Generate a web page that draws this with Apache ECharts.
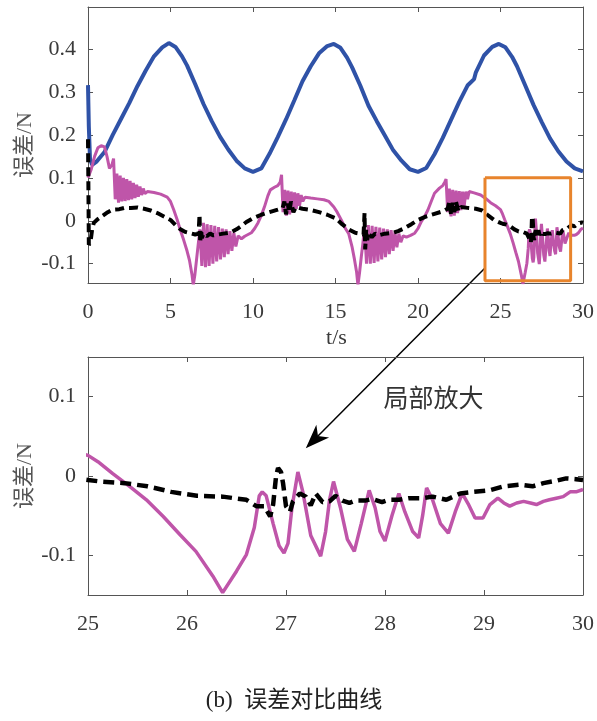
<!DOCTYPE html>
<html>
<head>
<meta charset="utf-8">
<script src="https://cdn.jsdelivr.net/npm/echarts@6/dist/echarts.min.js"></script>
<style>
html,body{margin:0;padding:0;background:#fff;}
#c{width:597px;height:721px;}
</style>
</head>
<body>
<div id="c"></div>
<script>
// ---- Data (t in s, value in N) ----
const blueData = [
[0,0.316],[0.05,0.22],[0.12,0.145],[0.25,0.13],[0.5,0.137],[1.0,0.16],[1.5,0.2],[2.0,0.237],[2.5,0.274],[3.0,0.314],[3.5,0.35],[4.0,0.383],[4.5,0.404],[4.9,0.414],[5.3,0.405],[5.7,0.383],[6.0,0.362],[6.5,0.318],[7.0,0.272],[7.5,0.232],[8.0,0.196],[8.5,0.166],[9.0,0.14],[9.5,0.122],[10.0,0.114],
[10.5,0.122],[11.0,0.156],[11.5,0.195],[12.0,0.236],[12.5,0.28],[13.0,0.325],[13.5,0.36],[14.0,0.39],[14.5,0.407],[14.9,0.412],[15.3,0.403],[15.7,0.38],[16.0,0.358],[16.5,0.315],[17.0,0.268],[17.5,0.232],[18.0,0.198],[18.5,0.164],[19.0,0.14],[19.5,0.12],[20.0,0.114],
[20.5,0.123],[21.0,0.155],[21.5,0.193],[22.0,0.235],[22.5,0.277],[23.0,0.315],[23.4,0.33],[23.5,0.345],[24.0,0.385],[24.5,0.405],[24.9,0.412],[25.3,0.404],[25.7,0.382],[26.0,0.36],[26.5,0.315],[27.0,0.27],[27.5,0.23],[28.0,0.192],[28.5,0.162],[29.0,0.138],[29.5,0.122],[30.0,0.115]
];
const magentaData = [
[0,0.10],[0.2,0.12],[0.4,0.15],[0.6,0.17],[0.8,0.175],[1.0,0.172],[1.15,0.15],[1.3,0.122],[1.45,0.13],[1.55,0.145],
[1.65,0.05],[1.75,0.11],[1.85,0.042],[1.95,0.105],[2.05,0.045],[2.15,0.1],[2.25,0.046],[2.35,0.097],[2.45,0.048],[2.55,0.093],[2.65,0.05],[2.75,0.088],[2.85,0.053],[2.95,0.084],[3.05,0.056],[3.15,0.08],[3.25,0.06],[3.35,0.075],[3.45,0.063],[3.6,0.068],
[4.0,0.066],[4.4,0.062],[4.8,0.055],[5.0,0.045],[5.2,0.025],[5.4,0.003],[5.6,-0.022],[5.8,-0.045],[6.0,-0.07],[6.15,-0.092],[6.3,-0.125],[6.38,-0.15],[6.48,-0.125],[6.58,-0.09],[6.68,-0.055],
[6.78,-0.02],[6.9,-0.105],[7.0,-0.005],[7.12,-0.108],[7.22,-0.008],[7.34,-0.105],[7.45,-0.01],[7.57,-0.1],[7.68,-0.012],[7.8,-0.095],[7.91,-0.015],[8.03,-0.09],[8.14,-0.018],[8.26,-0.085],[8.37,-0.02],[8.49,-0.078],[8.6,-0.024],[8.72,-0.07],[8.84,-0.028],[8.96,-0.06],[9.1,-0.035],[9.3,-0.042],[9.5,-0.036],[9.7,-0.032],[9.9,-0.028],
[10.1,-0.018],[10.3,-0.005],[10.5,0.012],[10.7,0.033],[10.9,0.058],[11.05,0.072],[11.3,0.078],[11.5,0.082],[11.65,0.09],[11.73,0.107],
[11.82,0.02],[11.92,0.072],[12.02,0.012],[12.12,0.07],[12.22,0.015],[12.32,0.068],[12.42,0.02],[12.52,0.066],[12.62,0.028],[12.72,0.064],[12.82,0.035],[12.92,0.06],[13.02,0.045],[13.15,0.055],
[13.5,0.053],[13.9,0.051],[14.3,0.049],[14.6,0.045],[14.9,0.032],[15.1,0.02],[15.35,0.002],[15.6,-0.018],[15.8,-0.03],[16.0,-0.06],[16.15,-0.09],[16.28,-0.12],[16.36,-0.15],[16.46,-0.12],[16.56,-0.085],[16.66,-0.052],
[16.76,-0.015],[16.88,-0.1],[16.99,-0.01],[17.11,-0.1],[17.22,-0.012],[17.34,-0.098],[17.45,-0.014],[17.57,-0.095],[17.68,-0.016],[17.8,-0.09],[17.91,-0.018],[18.03,-0.085],[18.14,-0.02],[18.26,-0.078],[18.37,-0.022],[18.49,-0.07],[18.6,-0.025],[18.72,-0.062],[18.84,-0.03],[18.96,-0.05],[19.1,-0.035],[19.3,-0.038],[19.55,-0.034],[19.8,-0.029],
[20.0,-0.018],[20.2,-0.002],[20.4,0.01],[20.6,0.025],[20.8,0.045],[21.0,0.064],[21.3,0.076],[21.5,0.082],[21.62,0.09],[21.7,0.097],
[21.8,0.02],[21.9,0.075],[22.0,0.01],[22.1,0.072],[22.2,0.012],[22.3,0.07],[22.4,0.018],[22.5,0.069],[22.6,0.025],[22.7,0.068],[22.8,0.035],[22.9,0.068],[23.0,0.05],[23.1,0.068],
[23.4,0.065],[23.8,0.06],[24.1,0.052],[24.4,0.042],[24.7,0.035],
[25.0,0.026],[25.1,0.018],[25.25,0.003],[25.42,-0.013],[25.59,-0.03],[25.76,-0.051],[25.93,-0.074],[26.09,-0.095],[26.26,-0.126],[26.36,-0.147],[26.5,-0.12],[26.6,-0.099],[26.68,-0.065],[26.73,-0.025],[26.76,-0.02],[26.8,-0.025],[26.87,-0.06],[26.93,-0.088],[26.98,-0.097],[27.02,-0.085],[27.06,-0.04],[27.12,0.005],[27.17,-0.02],[27.25,-0.075],[27.35,-0.101],[27.4,-0.07],[27.44,-0.03],[27.48,-0.007],[27.55,-0.04],[27.62,-0.08],[27.69,-0.095],[27.76,-0.06],[27.84,-0.018],[27.9,-0.04],[27.95,-0.07],[28.0,-0.082],[28.07,-0.05],[28.14,-0.022],[28.2,-0.045],[28.28,-0.07],[28.34,-0.078],[28.38,-0.05],[28.42,-0.015],[28.48,-0.03],[28.56,-0.06],[28.64,-0.072],[28.71,-0.045],[28.78,-0.022],[28.84,-0.035],[28.91,-0.053],[28.99,-0.053],[29.06,-0.036],[29.14,-0.028],[29.2,-0.034],[29.26,-0.038],[29.33,-0.034],[29.4,-0.032],[29.47,-0.034],[29.53,-0.036],[29.6,-0.032],[29.66,-0.03],[29.73,-0.028],[29.8,-0.026],[29.87,-0.02],[29.93,-0.02],[30.0,-0.017]
];
const blackData = [
[0,0.19],[0.01,0.15],[0.02,0.1],[0.03,0.05],[0.04,0.0],[0.05,-0.056],[0.15,-0.05],[0.25,-0.02],[0.35,-0.005],[0.6,0.004],[0.9,0.012],[1.2,0.02],[1.5,0.026],[1.9,0.027],[2.2,0.03],[2.6,0.03],[3.0,0.031],[3.4,0.028],[3.8,0.024],[4.2,0.018],[4.6,0.01],[5.0,0.002],[5.3,-0.01],[5.6,-0.02],[5.9,-0.026],[6.2,-0.029],[6.5,-0.032],[6.7,-0.03],[6.76,0.014],[6.8,-0.051],[6.85,-0.02],[6.9,-0.04],[7.0,-0.03],[7.2,-0.036],[7.4,-0.03],[7.6,-0.034],[7.9,-0.032],[8.2,-0.03],[8.6,-0.028],[9.0,-0.02],[9.3,-0.012],[9.6,-0.003],[10.0,0.006],[10.5,0.014],[11.0,0.02],[11.5,0.026],[11.8,0.03],[11.9,0.045],[12.0,0.015],[12.1,0.04],[12.2,0.02],[12.3,0.045],[12.45,0.02],[12.6,0.032],[13.0,0.028],[13.5,0.025],[14.0,0.02],[14.5,0.014],[15.0,0.006],[15.4,-0.008],[15.8,-0.02],[16.2,-0.028],[16.5,-0.03],[16.7,-0.032],[16.76,0.018],[16.8,-0.067],[16.86,-0.02],[16.92,-0.045],[17.0,-0.03],[17.2,-0.038],[17.4,-0.03],[17.6,-0.034],[18.0,-0.03],[18.4,-0.029],[18.8,-0.024],[19.2,-0.017],[19.6,-0.008],[20.0,0.002],[20.5,0.01],[21.0,0.016],[21.5,0.022],[21.8,0.028],[21.9,0.045],[22.0,0.015],[22.1,0.042],[22.2,0.02],[22.3,0.045],[22.45,0.022],[22.6,0.032],[23.0,0.03],[23.5,0.028],[23.9,0.024],[24.2,0.014],[24.6,0.002],
[25.0,-0.005],[25.13,-0.007],[25.37,-0.009],[25.6,-0.013],[25.84,-0.02],[26.1,-0.025],[26.36,-0.026],[26.6,-0.03],[26.7,-0.038],[26.78,-0.038],[26.84,-0.051],[26.87,-0.036],[26.9,0.0],[26.92,0.01],[26.95,0.005],[26.97,-0.009],[27.0,-0.038],[27.04,-0.045],[27.07,-0.032],[27.14,-0.022],[27.2,-0.026],[27.25,-0.037],[27.3,-0.022],[27.37,-0.033],[27.44,-0.032],[27.5,-0.025],[27.57,-0.031],[27.64,-0.034],[27.7,-0.031],[27.8,-0.031],[27.87,-0.029],[27.97,-0.033],[28.04,-0.03],[28.14,-0.03],[28.24,-0.028],[28.37,-0.028],[28.48,-0.026],[28.62,-0.03],[28.76,-0.022],[28.89,-0.02],[29.06,-0.018],[29.2,-0.013],[29.36,-0.011],[29.49,-0.013],[29.6,-0.009],[29.73,-0.006],[29.83,-0.003],[29.93,-0.004],[30.0,-0.005]
];
const zoomBox = [[24.06,0.1],[29.25,0.1],[29.25,-0.14],[24.06,-0.14],[24.06,0.1]];
const topYTicks = [-0.1,0,0.1,0.2,0.3,0.4];
const bottomYTicks = [-0.1,0,0.1];
const arrowFrom = [24.06,-0.11];   // top chart coords
const arrowTo = [27.2,0.035];      // bottom chart coords
const noteAt = [28.49,0.099];      // bottom chart coords
const yName = '误差/N';
const xName = 't/s';
const noteText = '局部放大';
const caption = '(b)  误差对比曲线';

const FONT = "'Liberation Serif','Noto Sans CJK SC',serif";
const TXT = '#3a3a3a';
const AX = '#555';

function fmt(v){ return v===0 ? '0' : v.toFixed(1); }
function xAx(grid, min, max, interval, pos, showLabel){
  return {type:'value', gridIndex:grid, min:min, max:max, interval:interval, position:pos,
    axisLine:{show:true, onZero:false, lineStyle:{color:AX, width:1}},
    axisTick:{show:true, inside:true, length:5, lineStyle:{color:AX}},
    splitLine:{show:false},
    axisLabel:{show:showLabel, margin:18, color:TXT, fontFamily:FONT, fontSize:22, formatter:v=>String(v)}};
}
function yAx(grid, min, max, ticks, pos, showLabel){
  return {type:'value', gridIndex:grid, min:min, max:max, position:pos,
    axisLine:{show:true, onZero:false, lineStyle:{color:AX, width:1}},
    axisTick:{show:true, inside:true, length:5, customValues:ticks, lineStyle:{color:AX}},
    splitLine:{show:false},
    axisLabel:{show:showLabel, margin:12, customValues:ticks, color:TXT, fontFamily:FONT, fontSize:22, formatter:fmt}};
}

const chart = echarts.init(document.getElementById('c'), null, {renderer:'canvas'});
const option = {
  animation:false,
  backgroundColor:'#fff',
  grid:[
    {left:88, right:12, top:7, height:276},
    {left:88, right:12, top:357, height:238}
  ],
  xAxis:[
    xAx(0,0,30,5,'bottom',true),
    xAx(0,0,30,5,'top',false),
    xAx(1,25,30,1,'bottom',true),
    xAx(1,25,30,1,'top',false)
  ],
  yAxis:[
    yAx(0,-0.145,0.498,topYTicks,'left',true),
    yAx(0,-0.145,0.498,topYTicks,'right',false),
    yAx(1,-0.15,0.15,bottomYTicks,'left',true),
    yAx(1,-0.15,0.15,bottomYTicks,'right',false)
  ],
  series:[
    {type:'line', xAxisIndex:0, yAxisIndex:0, data:blueData, showSymbol:false, smooth:false, clip:true,
      lineStyle:{color:'#2f52a7', width:4}},
    {type:'line', xAxisIndex:0, yAxisIndex:0, data:magentaData, showSymbol:false, clip:true,
      lineStyle:{color:'#bf55a9', width:3}},
    {type:'line', xAxisIndex:0, yAxisIndex:0, data:blackData, showSymbol:false, clip:true,
      lineStyle:{color:'#000', width:4, type:[9,5]}},
    {type:'line', xAxisIndex:0, yAxisIndex:0, data:zoomBox, showSymbol:false, clip:false, z:5,
      lineStyle:{color:'#e8842c', width:3}},
    {type:'line', xAxisIndex:2, yAxisIndex:2, data:magentaData, showSymbol:false, clip:true,
      lineStyle:{color:'#bf55a9', width:3.5}},
    {type:'line', xAxisIndex:2, yAxisIndex:2, data:blackData, showSymbol:false, clip:true,
      lineStyle:{color:'#000', width:4.5, type:[11,6]}}
  ]
};
chart.setOption(option);

const p0 = chart.convertToPixel({gridIndex:0}, arrowFrom);
const p1 = chart.convertToPixel({gridIndex:1}, arrowTo);
const pn = chart.convertToPixel({gridIndex:1}, noteAt);
const g0 = chart.convertToPixel({gridIndex:0}, [15,-0.145]);
const g0l = chart.convertToPixel({gridIndex:0}, [0,0.1765]);
const g1l = chart.convertToPixel({gridIndex:1}, [25,0]);
const dx = p0[0]-p1[0], dy = p0[1]-p1[1];
const L = Math.sqrt(dx*dx+dy*dy), ux = dx/L, uy = dy/L, px = -uy, py = ux;
const AL = 24, AW = 9;
const bx = p1[0]+ux*AL, by = p1[1]+uy*AL;
const nx = p1[0]+ux*AL*0.72, ny = p1[1]+uy*AL*0.72;

chart.setOption({graphic:[
  {type:'line', shape:{x1:p0[0], y1:p0[1], x2:nx, y2:ny}, style:{stroke:'#000', lineWidth:1.5}},
  {type:'polygon', shape:{points:[[p1[0],p1[1]],[bx+px*AW,by+py*AW],[nx,ny],[bx-px*AW,by-py*AW]]}, style:{fill:'#000'}},
  {type:'text', x:pn[0], y:pn[1], style:{text:noteText, fill:'#333', font:"25px 'Noto Sans CJK SC'", align:'center', verticalAlign:'middle'}},
  {type:'text', x:g0[0]+1, y:338, style:{text:xName, fill:TXT, font:"22px 'Liberation Serif'", align:'center', verticalAlign:'middle'}},
  {type:'text', x:25, y:g0l[1], rotation:Math.PI/2, style:{text:yName, fill:'#555', font:"22px 'Liberation Serif','Noto Sans CJK SC'", align:'center', verticalAlign:'middle'}},
  {type:'text', x:25, y:g1l[1], rotation:Math.PI/2, style:{text:yName, fill:'#555', font:"22px 'Liberation Serif','Noto Sans CJK SC'", align:'center', verticalAlign:'middle'}},
  {type:'text', x:294, y:701, style:{text:caption, fill:'#222', font:"23px 'Liberation Serif','Noto Sans CJK SC'", align:'center', verticalAlign:'middle'}}
]});
</script>
</body>
</html>
